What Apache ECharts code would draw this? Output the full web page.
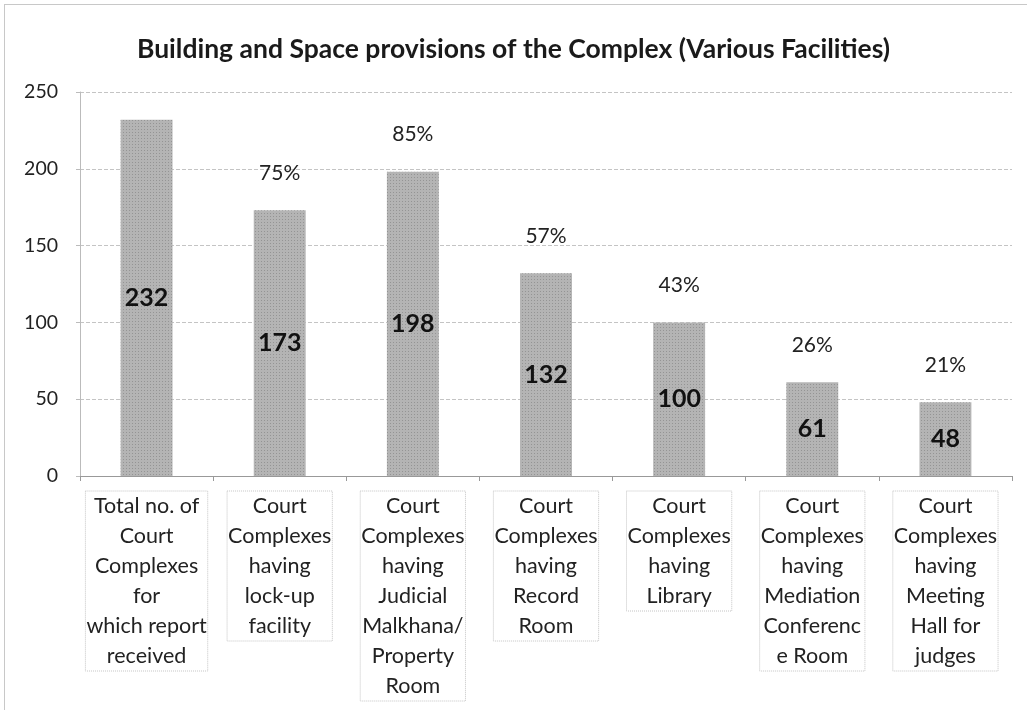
<!DOCTYPE html>
<html>
<head>
<meta charset="utf-8">
<script src="https://cdn.jsdelivr.net/npm/echarts@6/dist/echarts.min.js"></script>
<style>
html,body{margin:0;padding:0;background:#fff;}
#frame{position:absolute;left:4px;top:4px;width:1030px;height:720px;border:1px solid #c8c8c8;box-sizing:border-box;}
#chart{position:absolute;left:0;top:0;width:1027px;height:710px;}
</style>
</head>
<body>
<div id="frame"></div>
<div id="chart"></div>
<script>
const categories = [
  "Total no. of\nCourt\nComplexes\nfor\nwhich report\nreceived",
  "Court\nComplexes\nhaving\nlock-up\nfacility",
  "Court\nComplexes\nhaving\nJudicial\nMalkhana/\nProperty\nRoom",
  "Court\nComplexes\nhaving\nRecord\nRoom",
  "Court\nComplexes\nhaving\nLibrary",
  "Court\nComplexes\nhaving\nMediation\nConferenc\ne Room",
  "Court\nComplexes\nhaving\nMeeting\nHall for\njudges"
];
const counts = [232, 173, 198, 132, 100, 61, 48];
const percents = [null, 75, 85, 57, 43, 26, 21];
const yTicks = [0, 50, 100, 150, 200, 250];

const FONT = 'Lato, "Open Sans", sans-serif';
const chart = echarts.init(document.getElementById('chart'), null, {renderer: 'canvas'});
chart.setOption({
  animation: false,
  backgroundColor: 'transparent',
  title: {
    text: 'Building and Space provisions of the Complex (Various Facilities)',
    left: 'center',
    top: 31,
    textStyle: {fontFamily: FONT, fontSize: 26.5, fontWeight: 'bold', color: '#1a1a1a'}
  },
  grid: {left: 80, right: 15, top: 92, bottom: 234, containLabel: false},
  xAxis: {
    type: 'category',
    data: categories,
    axisLine: {lineStyle: {color: '#999', width: 1}},
    axisTick: {show: true, length: 5, lineStyle: {color: '#999'}},
    axisLabel: {
      interval: 0,
      margin: 15,
      fontFamily: FONT,
      fontSize: 21.5,
      lineHeight: 30,
      color: '#222',
      align: 'center',
      borderColor: '#c4c4c4',
      borderWidth: 1,
      borderType: 'dotted',
      padding: [0, 1, 0, 1]
    }
  },
  yAxis: {
    type: 'value',
    min: yTicks[0],
    max: yTicks[yTicks.length - 1],
    interval: 50,
    axisLine: {show: true, lineStyle: {color: '#bbb'}},
    axisTick: {show: true, length: 4, lineStyle: {color: '#bbb'}},
    axisLabel: {fontFamily: FONT, fontSize: 19.5, color: '#222', margin: 22},
    splitLine: {lineStyle: {color: '#c4c4c4', type: 'dashed', width: 1}}
  },
  series: [
    {
      type: 'bar',
      data: counts,
      barCategoryGap: '61%',
      itemStyle: {
        color: '#b4b4b4',
        decal: {
          symbol: 'rect',
          symbolSize: 1,
          dashArrayX: [1, 2],
          dashArrayY: [1, 2],
          rotation: 0,
          color: 'rgba(90,90,90,0.35)'
        }
      },
      label: {
        show: true,
        position: 'inside',
        fontFamily: FONT,
        fontSize: 25,
        fontWeight: 'bold',
        color: '#111'
      }
    },
    {
      type: 'bar',
      data: counts,
      barGap: '-100%',
      barCategoryGap: '61%',
      itemStyle: {color: 'rgba(0,0,0,0)'},
      silent: true,
      label: {
        show: true,
        position: 'top',
        distance: 27,
        fontFamily: FONT,
        fontSize: 21,
        color: '#222',
        formatter: function (p) {
          const v = percents[p.dataIndex];
          return v == null ? '' : v + '%';
        }
      }
    }
  ]
});
</script>
</body>
</html>
